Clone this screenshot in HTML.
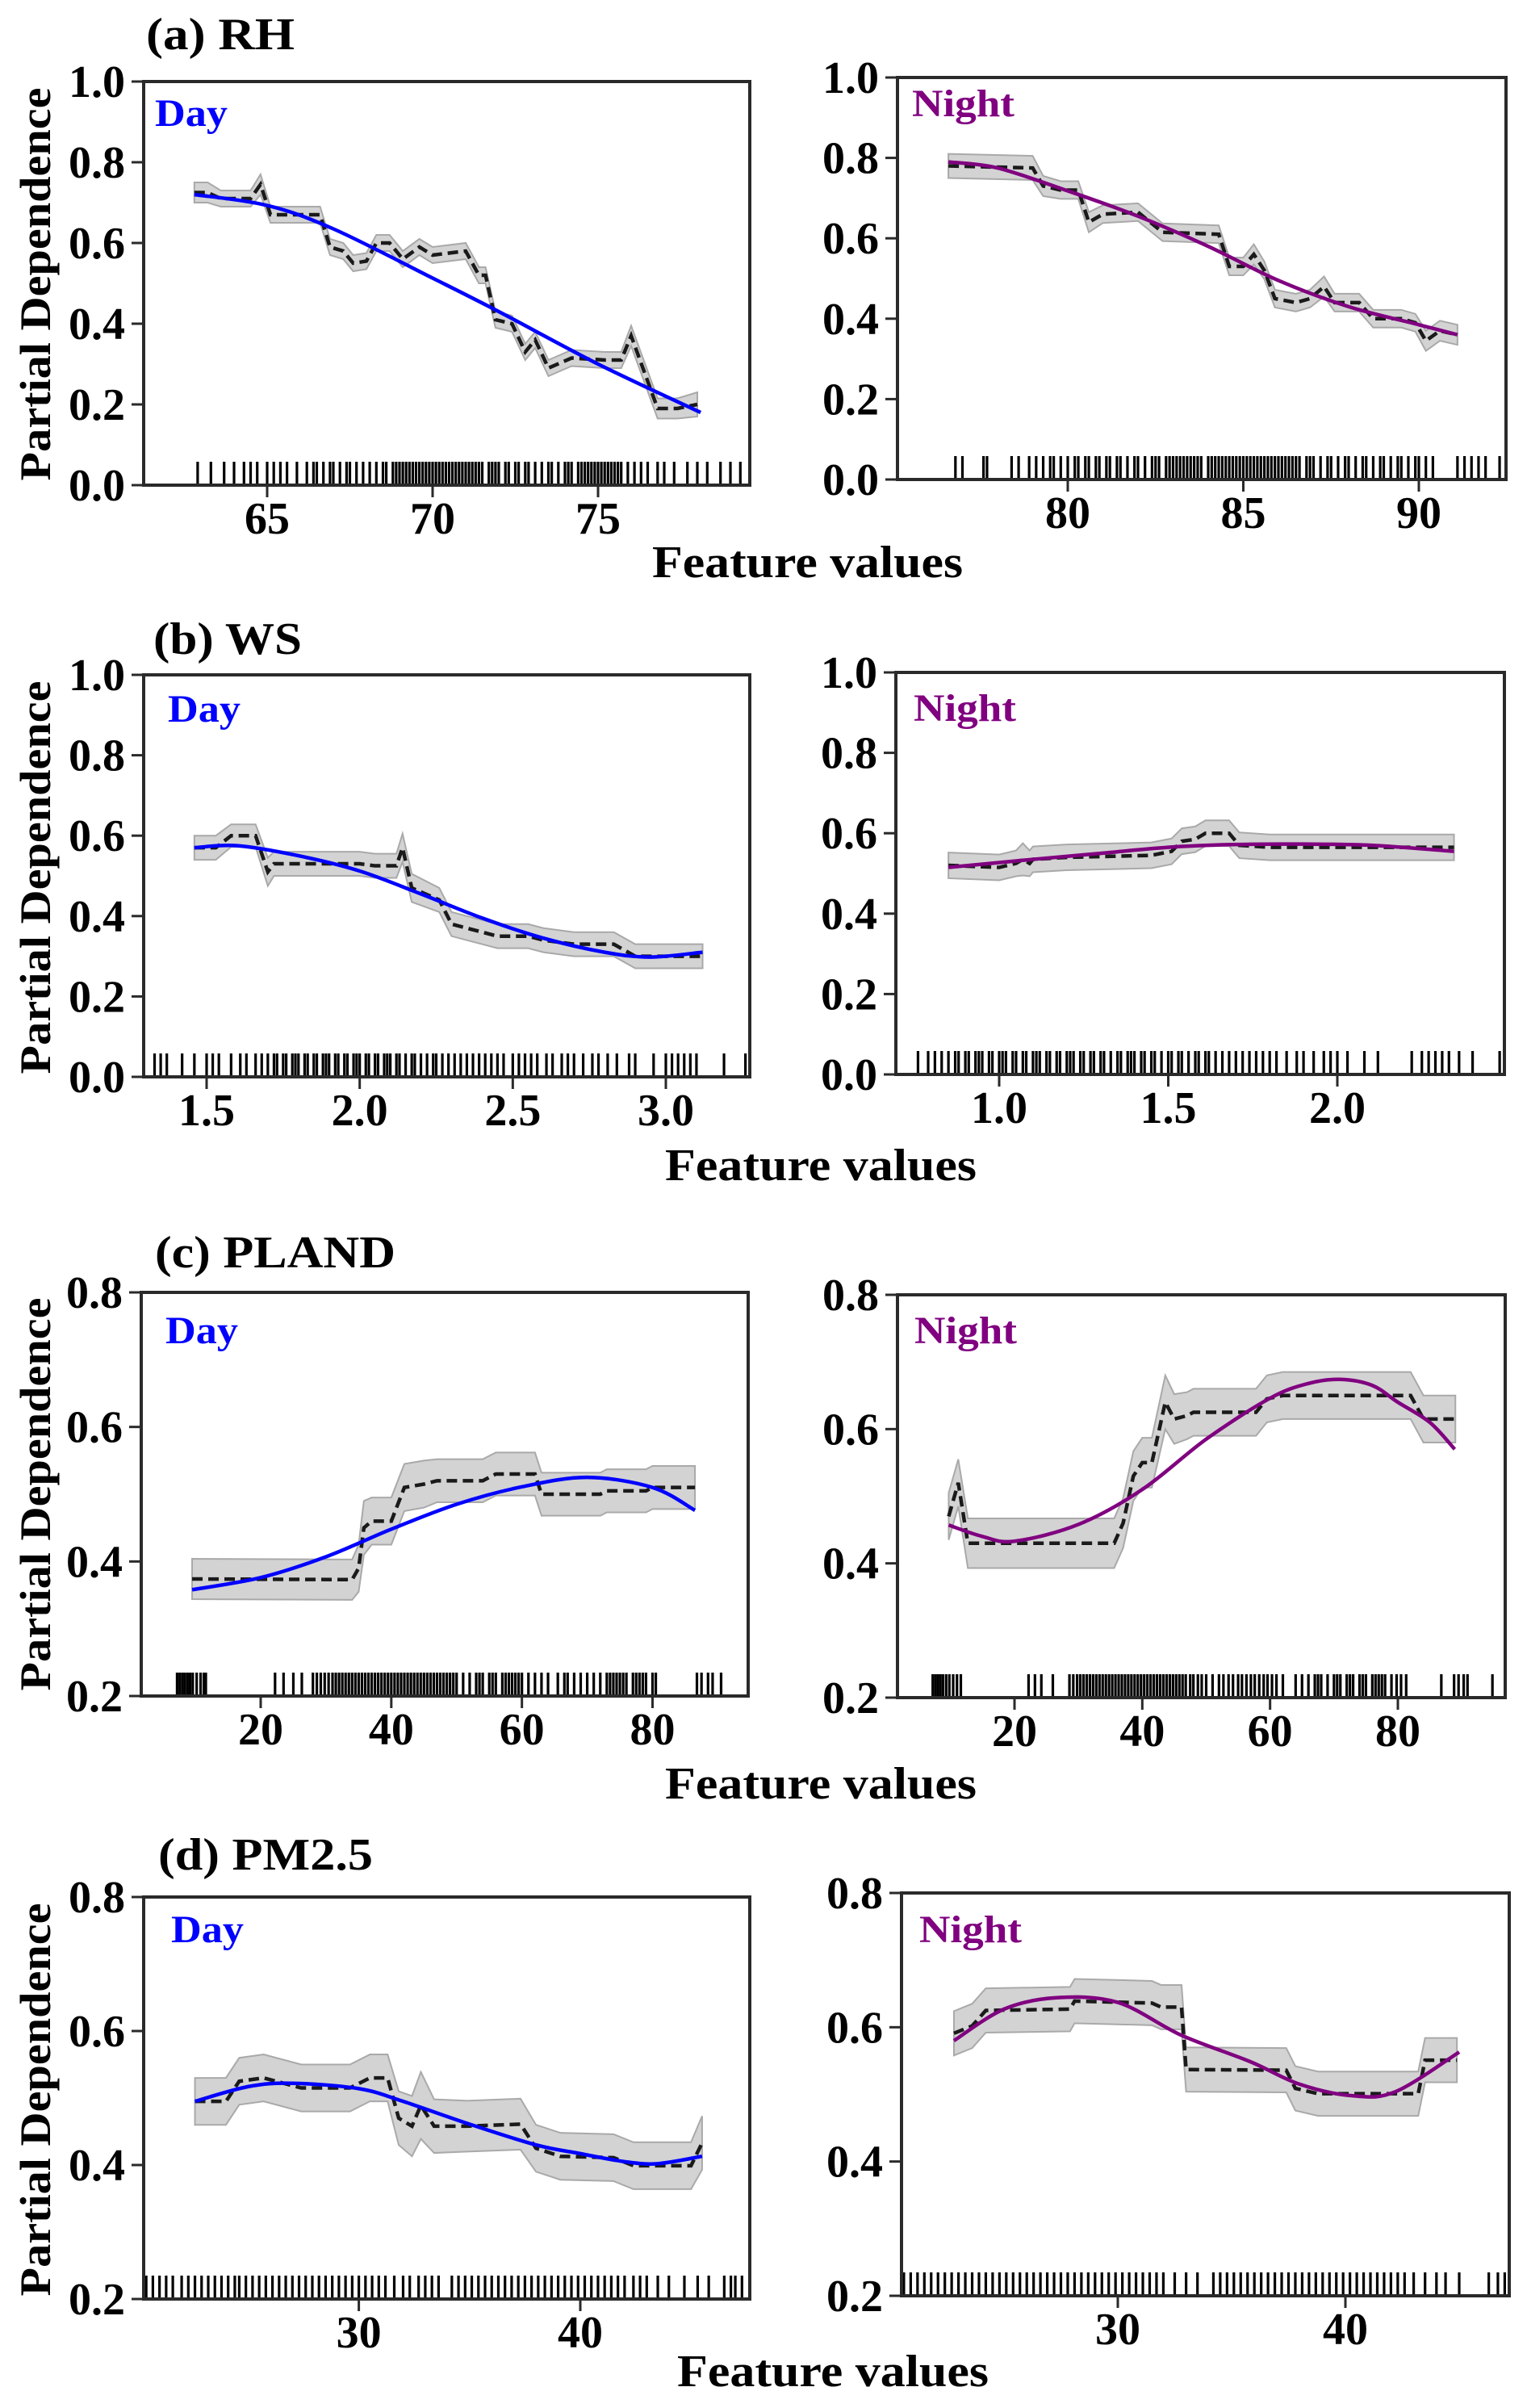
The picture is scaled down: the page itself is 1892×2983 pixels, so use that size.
<!DOCTYPE html>
<html><head><meta charset="utf-8"><style>
html,body{margin:0;padding:0;background:#fff;}
svg text{font-family:"Liberation Serif","Times New Roman",serif;font-weight:bold;}
</style></head><body>
<svg id="fig" xmlns="http://www.w3.org/2000/svg" width="1892" height="2978" viewBox="0 0 1892 2978" font-family="Liberation Serif" font-weight="bold"></svg>
<script>
// ---------- data ----------
const aDayX=[62.8,63.2,63.6,64.5,64.8,65.1,66.6,66.9,67.3,67.6,68.0,68.3,68.7,69.1,69.6,70.0,70.5,71.0,71.4,71.6,71.9,72.4,72.8,73.1,73.5,74.2,75.2,75.7,76.0,76.8,77.4,78.0];
const aDayPD=[0.725,0.725,0.71,0.71,0.745,0.67,0.67,0.59,0.58,0.55,0.555,0.60,0.60,0.56,0.59,0.57,0.575,0.58,0.52,0.52,0.41,0.40,0.33,0.36,0.29,0.315,0.31,0.31,0.37,0.19,0.19,0.20];
const aDayErr=[0.025,0.025,0.02,0.02,0.025,0.02,0.02,0.02,0.02,0.02,0.02,0.02,0.02,0.02,0.02,0.02,0.02,0.02,0.02,0.02,0.02,0.02,0.02,0.02,0.02,0.02,0.02,0.02,0.025,0.025,0.025,0.03];
const aDayFitX=[62.8,65,67,70,72,75,78.1];
const aDayFitY=[0.72,0.693,0.635,0.513,0.43,0.30,0.18];
const aDayRug=[62.9,63.3,63.7,64.0,64.3,64.5,64.7,65.0,65.2,65.4,65.6,65.9,66.2,66.4,66.5,66.7,66.9,67.0,67.2,67.4,67.5,67.7,67.9,68.1,68.3,68.5,68.6,68.8,68.9,69.0,69.1,69.2,69.3,69.4,69.5,69.6,69.7,69.8,69.9,70.0,70.1,70.2,70.3,70.4,70.5,70.6,70.7,70.8,70.9,71.0,71.1,71.2,71.3,71.4,71.5,71.7,71.8,71.9,72.0,72.2,72.3,72.5,72.6,72.8,72.9,73.1,73.3,73.5,73.6,73.8,74.0,74.1,74.2,74.4,74.5,74.6,74.7,74.8,74.9,75.0,75.1,75.2,75.3,75.4,75.5,75.6,75.7,75.9,76.1,76.3,76.5,76.8,77.0,77.3,77.7,78.0,78.3,78.7,79.0,79.3];

const aNightX=[76.6,79.0,79.3,79.8,80.3,80.6,81.0,82.0,82.7,84.3,84.6,85.0,85.3,85.6,85.9,86.5,86.9,87.3,87.6,88.3,88.7,89.5,89.9,90.2,90.6,91.1];
const aNightPD=[0.78,0.775,0.73,0.72,0.72,0.64,0.66,0.665,0.615,0.61,0.53,0.53,0.56,0.52,0.45,0.44,0.45,0.48,0.44,0.44,0.40,0.40,0.39,0.345,0.37,0.36];
const aNightErr=[0.03,0.03,0.025,0.022,0.022,0.025,0.022,0.022,0.022,0.022,0.022,0.022,0.025,0.022,0.022,0.022,0.022,0.025,0.022,0.022,0.022,0.022,0.022,0.025,0.025,0.025];
const aNightFitX=[76.6,78,80,82,84,86,88,90,91.1];
const aNightFitY=[0.79,0.775,0.718,0.655,0.58,0.495,0.43,0.385,0.36];
const aNightRug=[76.8,77.0,77.6,77.7,78.4,78.6,78.9,79.1,79.3,79.5,79.6,79.8,80.0,80.2,80.3,80.5,80.6,80.8,80.9,81.1,81.2,81.4,81.5,81.7,81.9,82.0,82.2,82.4,82.5,82.6,82.8,82.9,83.0,83.1,83.2,83.3,83.4,83.5,83.6,83.7,83.8,84.0,84.1,84.2,84.3,84.4,84.5,84.6,84.7,84.8,84.9,85.0,85.1,85.2,85.3,85.4,85.5,85.6,85.7,85.8,85.9,86.0,86.1,86.2,86.3,86.4,86.5,86.6,86.8,86.9,87.0,87.2,87.4,87.5,87.7,87.9,88.0,88.2,88.4,88.5,88.7,88.9,89.0,89.2,89.4,89.5,89.7,89.9,90.0,90.2,90.4,91.1,91.3,91.5,91.7,91.9,92.3];

const bDayX=[1.46,1.53,1.58,1.66,1.70,1.72,2.0,2.05,2.12,2.14,2.17,2.26,2.30,2.35,2.45,2.55,2.60,2.70,2.83,2.90,3.0,3.05,3.12];
const bDayPD=[0.57,0.57,0.60,0.60,0.51,0.53,0.53,0.525,0.525,0.57,0.47,0.44,0.38,0.37,0.35,0.35,0.34,0.33,0.33,0.30,0.30,0.30,0.30];
const bDayErr=[0.03,0.03,0.028,0.028,0.035,0.03,0.03,0.03,0.03,0.035,0.035,0.03,0.03,0.03,0.03,0.03,0.03,0.03,0.03,0.03,0.03,0.03,0.03];
const bDayFitX=[1.46,1.6,1.8,2.0,2.2,2.4,2.6,2.8,2.95,3.12];
const bDayFitY=[0.57,0.575,0.55,0.512,0.455,0.395,0.345,0.31,0.298,0.31];
const bDayRug=[1.33,1.35,1.37,1.42,1.46,1.50,1.52,1.54,1.58,1.61,1.63,1.66,1.68,1.70,1.72,1.73,1.75,1.76,1.78,1.79,1.80,1.82,1.83,1.85,1.86,1.88,1.89,1.90,1.92,1.93,1.95,1.96,1.98,1.99,2.00,2.02,2.03,2.05,2.06,2.08,2.09,2.10,2.12,2.13,2.15,2.17,2.18,2.20,2.22,2.24,2.25,2.27,2.29,2.31,2.33,2.35,2.37,2.39,2.41,2.43,2.45,2.47,2.50,2.52,2.54,2.56,2.58,2.61,2.63,2.66,2.68,2.70,2.73,2.76,2.78,2.81,2.84,2.88,2.90,2.96,3.00,3.02,3.04,3.06,3.08,3.10,3.19,3.26];

const bNightX=[0.85,1.0,1.05,1.07,1.09,1.1,1.2,1.45,1.51,1.54,1.58,1.61,1.68,1.71,1.8,2.0,2.3,2.345];
const bNightPD=[0.52,0.515,0.525,0.535,0.525,0.535,0.54,0.545,0.555,0.58,0.585,0.60,0.60,0.57,0.565,0.565,0.565,0.565];
const bNightErr=[0.032,0.032,0.032,0.04,0.032,0.032,0.032,0.032,0.032,0.032,0.032,0.032,0.032,0.032,0.032,0.032,0.032,0.032];
const bNightFitX=[0.85,1.1,1.3,1.5,1.7,1.9,2.1,2.345];
const bNightFitY=[0.515,0.535,0.55,0.565,0.572,0.573,0.57,0.555];
const bNightRug=[0.76,0.79,0.81,0.83,0.85,0.87,0.88,0.90,0.91,0.93,0.94,0.95,0.97,0.98,1.00,1.01,1.02,1.04,1.05,1.07,1.08,1.10,1.11,1.12,1.14,1.15,1.17,1.18,1.20,1.21,1.22,1.24,1.25,1.27,1.28,1.30,1.31,1.33,1.35,1.36,1.38,1.39,1.40,1.42,1.43,1.45,1.46,1.48,1.50,1.51,1.53,1.54,1.56,1.58,1.59,1.61,1.62,1.64,1.66,1.68,1.70,1.72,1.74,1.76,1.78,1.80,1.82,1.85,1.88,1.90,1.93,1.96,1.98,2.00,2.03,2.08,2.12,2.22,2.25,2.27,2.29,2.31,2.33,2.36,2.40,2.48];

const cDayX=[9.5,34,35,35.8,37,40,42,45,47,54,56,62,63,72,73,79,80,86.5];
const cDayPD=[0.374,0.373,0.39,0.45,0.46,0.46,0.51,0.515,0.52,0.52,0.53,0.53,0.50,0.50,0.505,0.505,0.51,0.51];
const cDayErr=[0.03,0.03,0.035,0.04,0.035,0.035,0.035,0.035,0.032,0.032,0.032,0.032,0.032,0.032,0.032,0.032,0.032,0.032];
const cDayFitX=[9.5,20,30,40,50,60,70,80,86.5];
const cDayFitY=[0.358,0.376,0.407,0.448,0.485,0.511,0.525,0.51,0.476];
const cDayRug=[7.2,7.6,8.0,8.4,8.8,9.2,9.6,10.2,10.8,11.3,11.6,22.2,23.5,25.0,26.3,28.0,28.6,29.2,29.8,30.4,31.0,31.5,32.0,32.5,33.0,33.5,34.0,34.5,35.0,35.5,36.0,36.5,37.0,37.5,38.0,38.5,39.0,39.5,40.0,40.5,41.0,41.5,42.0,42.5,43.0,43.5,44.0,44.5,45.0,45.5,46.0,46.5,47.0,47.5,48.0,48.5,49.0,49.5,50.0,51.0,52.0,53.0,53.5,54.0,55.0,55.5,56.0,57.0,57.5,58.0,58.5,59.0,59.5,60.0,61.0,62.0,63.0,64.0,65.5,66.5,67.0,68.0,69.0,70.0,71.0,72.0,73.0,73.5,74.0,74.5,75.0,75.5,76.0,77.0,77.5,78.0,78.5,79.0,80.0,80.5,86.8,87.5,88.5,89.2,90.5];

const cNightX=[9.7,11.2,12.7,35.6,37,38.6,40,41.5,43.6,45,47,48,57.8,59.5,62,82,84,89];
const cNightPD=[0.47,0.52,0.43,0.43,0.46,0.53,0.55,0.55,0.64,0.615,0.62,0.625,0.625,0.645,0.65,0.65,0.615,0.615];
const cNightErr=[0.035,0.035,0.037,0.037,0.037,0.037,0.037,0.037,0.04,0.037,0.035,0.035,0.035,0.035,0.035,0.035,0.035,0.035];
const cNightFitX=[9.7,15,20,30,40,50,60,66,71,76,80,85,88.9];
const cNightFitY=[0.457,0.44,0.433,0.458,0.51,0.585,0.646,0.668,0.674,0.665,0.64,0.61,0.57];
const cNightRug=[7.2,7.6,8.0,8.4,8.8,9.3,9.8,10.4,11.0,11.6,22.2,23.2,24.2,26.0,28.6,29.2,29.8,30.3,30.8,31.3,31.8,32.3,32.8,33.3,33.8,34.3,34.8,35.3,35.8,36.3,36.8,37.3,37.8,38.3,38.8,39.3,39.8,40.3,40.8,41.3,41.8,42.3,42.8,43.3,43.8,44.3,44.8,45.3,45.8,46.3,46.8,47.5,48.0,48.7,49.3,50.0,51.0,52.0,52.7,53.5,54.2,55.0,55.6,56.3,57.0,57.6,58.3,59.0,59.6,60.3,61.0,62.0,64.0,65.0,66.0,67.0,67.5,68.0,69.0,70.0,70.5,71.0,72.0,72.5,73.0,74.0,74.5,75.0,76.0,76.5,77.0,77.5,78.0,79.0,79.8,80.5,81.3,86.8,88.8,89.5,90.3,90.9,94.8];

const dDayX=[22.6,24.0,24.6,25.7,27.4,29.6,30.5,31.3,31.8,32.4,32.8,33.4,34.9,37.3,38.0,39.1,41.5,42.4,45.0,45.5];
const dDayPD=[0.495,0.495,0.525,0.53,0.515,0.515,0.53,0.53,0.47,0.458,0.489,0.458,0.458,0.461,0.425,0.413,0.411,0.399,0.399,0.433];
const dDayErr=[0.035,0.035,0.035,0.035,0.035,0.035,0.035,0.035,0.04,0.045,0.05,0.04,0.038,0.038,0.035,0.035,0.035,0.035,0.035,0.04];
const dDayFitX=[22.6,25,27,30,32,35,38,40,42,43.5,45.5];
const dDayFitY=[0.495,0.517,0.522,0.514,0.495,0.461,0.43,0.417,0.405,0.402,0.413];
const dDayRug=[20.4,20.7,21.0,21.3,21.6,22.0,22.3,22.6,22.9,23.2,23.5,23.8,24.1,24.4,24.6,24.9,25.2,25.5,25.8,26.1,26.4,26.7,27.0,27.3,27.6,27.9,28.2,28.5,28.8,29.1,29.4,29.7,30.0,30.3,30.6,30.9,31.2,31.6,32.0,32.3,32.7,33.0,33.3,33.6,34.2,34.5,34.8,35.1,35.4,35.7,36.0,36.3,36.6,36.9,37.2,37.5,37.8,38.1,38.4,38.7,39.0,39.3,39.6,39.9,40.2,40.5,40.8,41.1,41.4,41.7,42.0,42.4,42.7,43.0,43.5,44.0,44.7,45.3,45.8,46.5,46.8,47.0,47.3];

const dNightX=[22.8,23.6,24.2,27.9,28.1,31.5,31.9,32.8,33.0,37.4,37.8,38.8,43.2,43.5,44.9];
const dNightPD=[0.591,0.602,0.625,0.627,0.639,0.636,0.630,0.630,0.537,0.536,0.509,0.501,0.501,0.551,0.551];
const dNightErr=[0.033,0.033,0.033,0.033,0.033,0.033,0.033,0.033,0.033,0.033,0.033,0.033,0.033,0.033,0.033];
const dNightFitX=[22.8,25,27.3,30,32.8,35.8,38,40.3,42.2,45.0];
const dNightFitY=[0.58,0.627,0.644,0.637,0.588,0.549,0.515,0.498,0.504,0.563];
const dNightRug=[20.6,20.9,21.2,21.5,21.8,22.1,22.4,22.7,23.0,23.3,23.6,23.9,24.2,24.5,24.8,25.1,25.4,25.7,26.0,26.3,26.6,26.9,27.2,27.5,27.8,28.1,28.4,28.7,29.0,29.3,29.6,29.9,30.2,30.5,30.8,31.1,31.4,31.7,32.0,32.5,33.0,33.5,34.2,34.5,34.8,35.1,35.4,35.7,36.0,36.3,36.6,36.9,37.2,37.5,37.8,38.1,38.4,38.7,39.0,39.3,39.6,39.9,40.2,40.5,40.8,41.1,41.4,41.7,42.0,42.3,42.6,43.0,43.5,44.0,44.4,45.0,46.3,46.7,47.0];

const yTicks01=[0.0,0.2,0.4,0.6,0.8,1.0];
const yTicks0208=[0.2,0.4,0.6,0.8];
const aDayTicks=[65,70,75], aNightTicks=[80,85,90];
const bDayTicks=[1.5,2.0,2.5,3.0], bNightTicks=[1.0,1.5,2.0];
const cTicks=[20,40,60,80];
const dTicks=[30,40];

// ---------- layout ----------
const NS="http://www.w3.org/2000/svg";
const svg=document.getElementById('fig');
const FONT='"Liberation Serif", "Times New Roman", serif';
function mk(tag,attrs,parent){const e=document.createElementNS(NS,tag);for(const k in attrs)e.setAttribute(k,attrs[k]);(parent||svg).appendChild(e);return e;}
function txt(attrs,parent){attrs['font-family']=FONT;attrs['font-weight']='bold';return mk('text',attrs,parent);}

function smoothPath(pts){
  let d=`M${pts[0][0]},${pts[0][1]}`;
  for(let i=0;i<pts.length-1;i++){
    const p0=pts[Math.max(0,i-1)],p1=pts[i],p2=pts[i+1],p3=pts[Math.min(pts.length-1,i+2)];
    const c1x=p1[0]+(p2[0]-p0[0])/6,c1y=p1[1]+(p2[1]-p0[1])/6;
    const c2x=p2[0]-(p3[0]-p1[0])/6,c2y=p2[1]-(p3[1]-p1[1])/6;
    d+=` C${c1x},${c1y} ${c2x},${c2y} ${p2[0]},${p2[1]}`;
  }
  return d;
}

const panels=[
 {id:'a-day',box:[178,101,929,601],t1:[65,331],t2:[75,741],yr:[0,1],yt:yTicks01,xt:aDayTicks,fmt:0,x:aDayX,pd:aDayPD,err:aDayErr,fx:aDayFitX,fy:aDayFitY,rug:aDayRug,lab:'Day',col:'#0000ff',lx:192,ly:156,lw:90},
 {id:'a-night',box:[1112,96,1866,594],t1:[80,1323],t2:[90,1758],yr:[0,1],yt:yTicks01,xt:aNightTicks,fmt:0,x:aNightX,pd:aNightPD,err:aNightErr,fx:aNightFitX,fy:aNightFitY,rug:aNightRug,lab:'Night',col:'#800080',lx:1130,ly:144,lw:127},
 {id:'b-day',box:[178,836,929,1334],t1:[1.5,256],t2:[3.0,825],yr:[0,1],yt:yTicks01,xt:bDayTicks,fmt:1,x:bDayX,pd:bDayPD,err:bDayErr,fx:bDayFitX,fy:bDayFitY,rug:bDayRug,lab:'Day',col:'#0000ff',lx:208,ly:894,lw:90},
 {id:'b-night',box:[1110,833,1864,1331],t1:[1.0,1238],t2:[2.0,1657],yr:[0,1],yt:yTicks01,xt:bNightTicks,fmt:1,x:bNightX,pd:bNightPD,err:bNightErr,fx:bNightFitX,fy:bNightFitY,rug:bNightRug,lab:'Night',col:'#800080',lx:1132,ly:893,lw:127},
 {id:'c-day',box:[175,1601,927,2101],t1:[20,323],t2:[80,808.5],yr:[0.2,0.8],yt:yTicks0208,xt:cTicks,fmt:0,x:cDayX,pd:cDayPD,err:cDayErr,fx:cDayFitX,fy:cDayFitY,rug:cDayRug,lab:'Day',col:'#0000ff',lx:205,ly:1664,lw:90},
 {id:'c-night',box:[1112,1604,1865,2103],t1:[20,1257],t2:[80,1732],yr:[0.2,0.8],yt:yTicks0208,xt:cTicks,fmt:0,x:cNightX,pd:cNightPD,err:cNightErr,fx:cNightFitX,fy:cNightFitY,rug:cNightRug,lab:'Night',col:'#800080',lx:1133,ly:1664,lw:127},
 {id:'d-day',box:[178,2350,929,2848],t1:[30,444.6],t2:[40,719],yr:[0.2,0.8],yt:yTicks0208,xt:dTicks,fmt:0,x:dDayX,pd:dDayPD,err:dDayErr,fx:dDayFitX,fy:dDayFitY,rug:dDayRug,lab:'Day',col:'#0000ff',lx:212,ly:2406,lw:90},
 {id:'d-night',box:[1117,2345,1870,2844],t1:[30,1385],t2:[40,1667],yr:[0.2,0.8],yt:yTicks0208,xt:dTicks,fmt:0,x:dNightX,pd:dNightPD,err:dNightErr,fx:dNightFitX,fy:dNightFitY,rug:dNightRug,lab:'Night',col:'#800080',lx:1139,ly:2406,lw:127}
];

panels.forEach(p=>{
  const [L,T,R,B]=p.box;
  const k=(p.t2[1]-p.t1[1])/(p.t2[0]-p.t1[0]);
  const X=v=>p.t1[1]+(v-p.t1[0])*k;
  const Y=v=>B-(v-p.yr[0])/(p.yr[1]-p.yr[0])*(B-T);
  const g=mk('g',{});
  
  
  const clipId='clip-'+p.id;
  const cp=mk('clipPath',{id:clipId},g);mk('rect',{x:L,y:T,width:R-L,height:B-T},cp);
  const plot=mk('g',{'clip-path':`url(#${clipId})`},g);
  const rugG=mk('g',{stroke:'#000','stroke-width':3.2},plot);
  
  
  p.rug.forEach(v=>{const l=mk('line',{x1:X(v),x2:X(v),y1:B,y2:B-29},rugG);
    
    });
  const up=p.x.map((v,i)=>`${X(v)},${Y(p.pd[i]+p.err[i])}`);
  const lo=p.x.map((v,i)=>`${X(v)},${Y(p.pd[i]-p.err[i])}`).reverse();
  const band=mk('polygon',{points:up.concat(lo).join(' '),fill:'#d3d3d3',stroke:'#a9a9a9','stroke-width':2},plot);
  
  
  const pdl=mk('polyline',{points:p.x.map((v,i)=>`${X(v)},${Y(p.pd[i])}`).join(' '),fill:'none',stroke:'#1a1a1a','stroke-width':4.5,'stroke-dasharray':'13,7'},plot);
  
  
  const fit=mk('path',{d:smoothPath(p.fx.map((v,i)=>[X(v),Y(p.fy[i])])),fill:'none',stroke:p.col,'stroke-width':4.5},plot);
  
  
  const fr=mk('rect',{x:L,y:T,width:R-L,height:B-T,fill:'none',stroke:'#2a2a2a','stroke-width':4},g);
  
  
  p.yt.forEach(v=>{
    const y=Y(v);
    mk('line',{x1:L-15,x2:L,y1:y,y2:y,stroke:'#2a2a2a','stroke-width':3},g);
    const t=txt({x:L-23,y:y+19,'text-anchor':'end','font-size':56},g);
    t.textContent=v.toFixed(1);
    
    
  });
  p.xt.forEach(v=>{
    const x=X(v);
    mk('line',{x1:x,x2:x,y1:B,y2:B+15,stroke:'#2a2a2a','stroke-width':3},g);
    const t=txt({x:x,y:B+60,'text-anchor':'middle','font-size':56},g);
    t.textContent=p.fmt?v.toFixed(1):String(v);
    
    
  });
  const lt=txt({x:p.lx,y:p.ly,'font-size':48,fill:p.col,textLength:p.lw,lengthAdjust:'spacingAndGlyphs'},g);
  lt.textContent=p.lab;
  
  
});

const titles=[['(a) RH',181,61,184],['(b) WS',190,810,184],['(c) PLAND',192,1570,298],['(d) PM2.5',196,2316,266]];
titles.forEach(([s,x,y,w])=>{const t=txt({x:x,y:y,'font-size':56,textLength:w,lengthAdjust:'spacingAndGlyphs'});t.textContent=s;
  
  });
const xl=[[808,715,385],[824,1462,386],[824,2228,386],[839,2956,386]];
xl.forEach(([x,y,w])=>{const t=txt({x:x,y:y,'font-size':56,textLength:w,lengthAdjust:'spacingAndGlyphs'});t.textContent='Feature values';
  
  });
const yl=[352,1087,1851,2601];
yl.forEach(cy=>{const t=txt({x:0,y:0,'font-size':54,'text-anchor':'middle',textLength:487,lengthAdjust:'spacingAndGlyphs',transform:`translate(62,${cy}) rotate(-90)`});t.textContent='Partial Dependence';
  
  });
</script>
</body></html>
